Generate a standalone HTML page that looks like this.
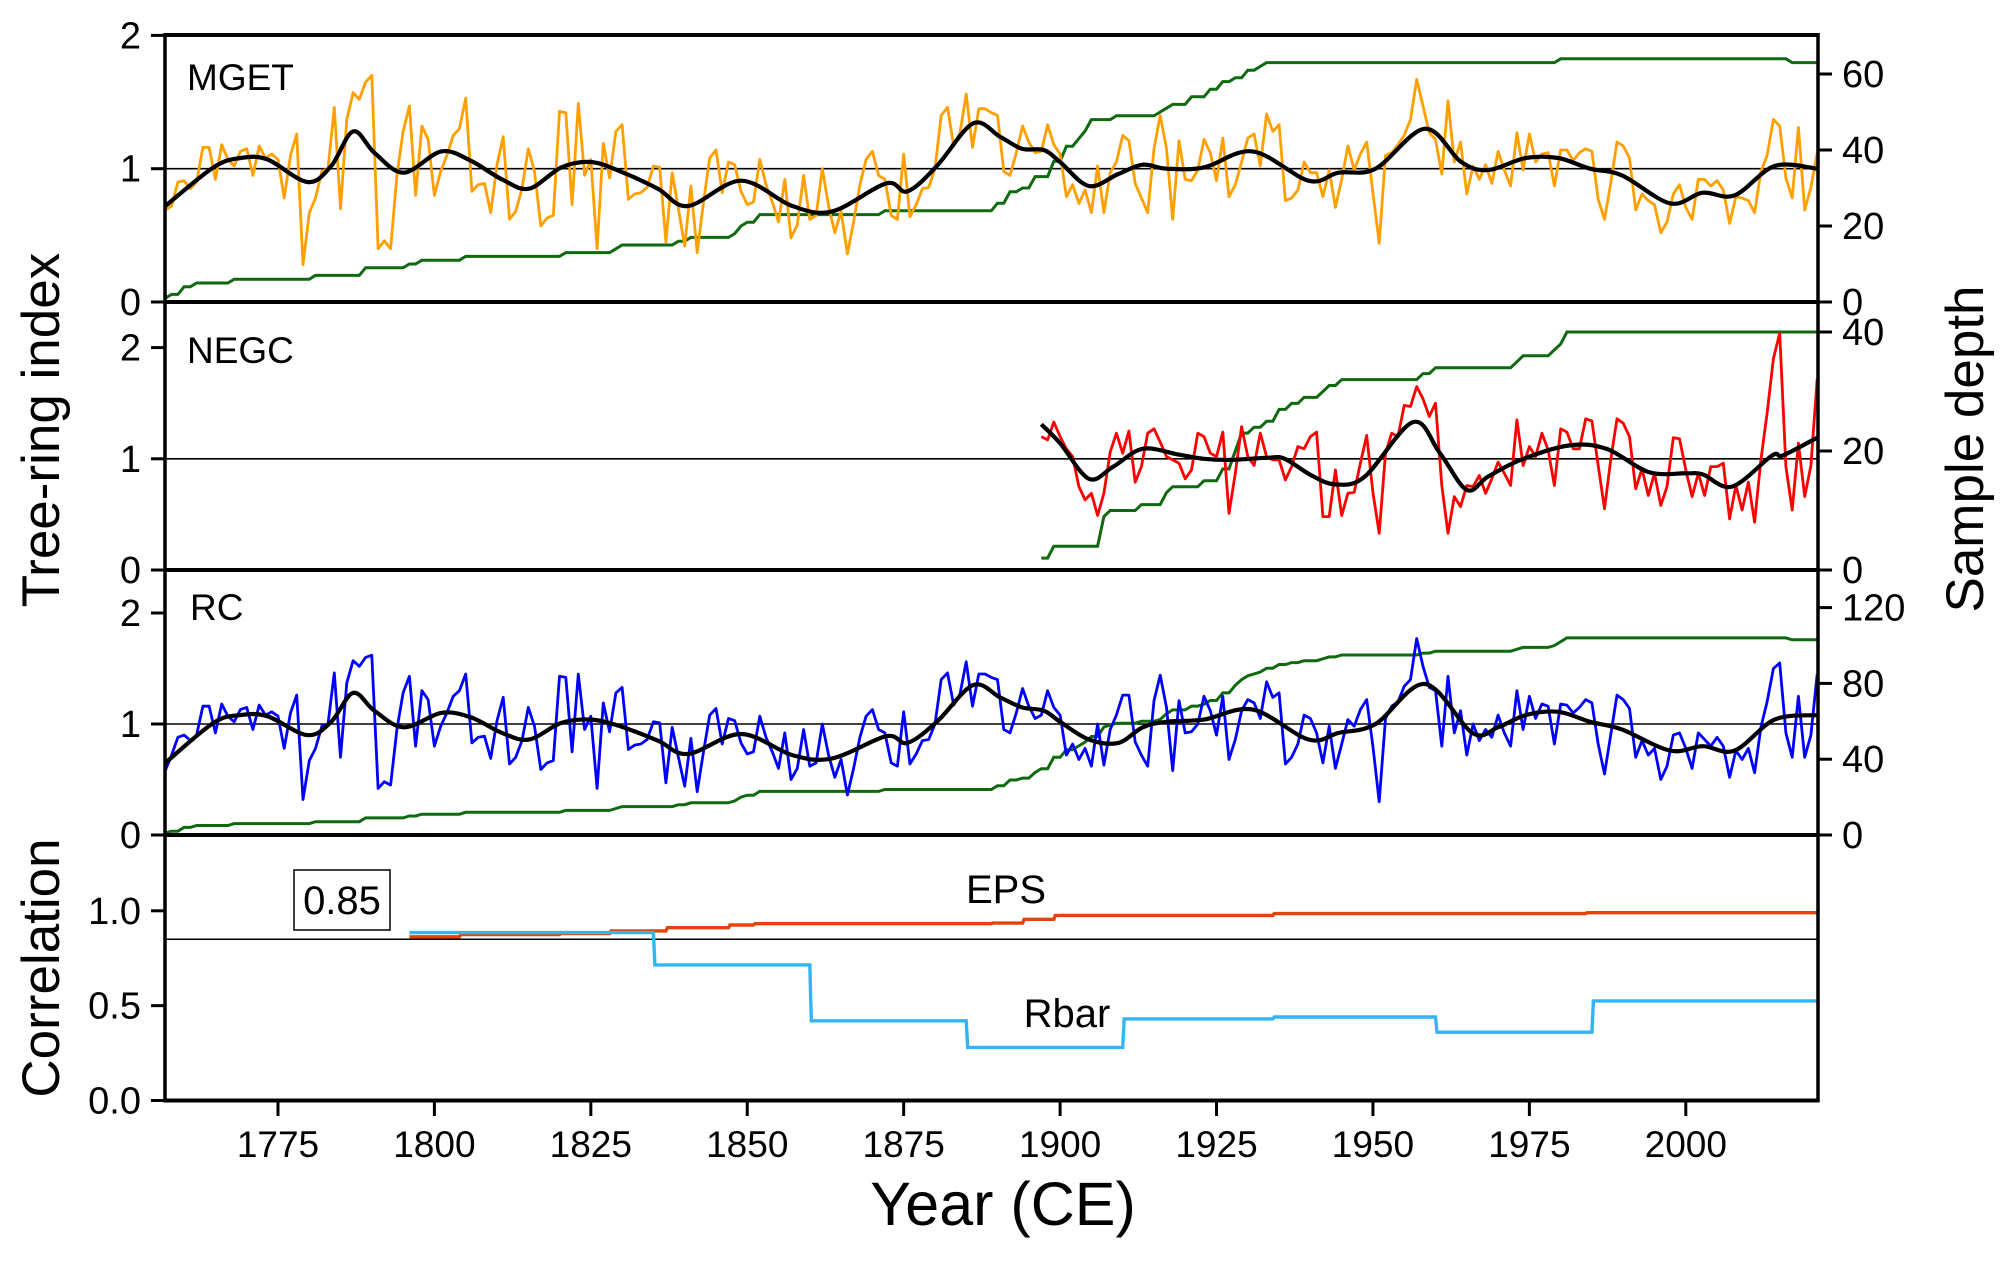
<!DOCTYPE html>
<html><head><meta charset="utf-8">
<style>
html,body{margin:0;padding:0;background:#fff;}
svg{display:block;font-family:"Liberation Sans",Arial,sans-serif;}
</style></head>
<body>
<svg id="chart" xmlns="http://www.w3.org/2000/svg" width="2003" height="1265" viewBox="0 0 2003 1265">
<g id="marks"></g>
<g id="frame"></g>
<g id="labels"></g>
</svg>
<script>
// ---------------- data ----------------
const startYear = 1757;
const mgetIndex = [
0.69,0.72,0.90,0.91,0.85,0.90,1.16,1.16,0.92,1.18,
1.07,1.02,1.13,1.15,0.95,1.17,1.08,1.11,1.07,0.78,
1.10,1.26,0.28,0.67,0.78,0.98,1.00,1.46,0.70,1.37,
1.57,1.52,1.65,1.70,0.40,0.46,0.40,0.95,1.28,1.47,
0.80,1.32,1.22,0.80,0.98,1.10,1.25,1.30,1.53,0.83,
0.88,0.89,0.67,1.03,1.24,0.62,0.68,0.85,1.15,0.98,
0.57,0.63,0.65,1.43,1.42,0.73,1.49,0.95,1.07,0.40,
1.19,0.93,1.28,1.33,0.77,0.81,0.82,0.86,1.02,1.01,
0.45,0.97,0.70,0.42,0.87,0.37,0.75,1.08,1.14,0.82,
1.05,1.03,0.83,0.73,0.75,1.07,0.88,0.75,0.60,0.92,
0.48,0.58,0.95,0.62,0.65,1.00,0.72,0.52,0.68,0.36,
0.60,0.88,1.07,1.13,0.95,0.92,0.65,0.62,1.11,0.64,
0.73,0.85,0.86,1.00,1.40,1.46,1.17,1.27,1.56,1.16,
1.45,1.45,1.42,1.40,0.98,0.95,1.12,1.32,1.20,1.12,
1.13,1.33,1.18,1.11,0.79,0.88,0.74,0.84,0.67,1.02,
0.67,0.97,1.05,1.25,1.21,0.89,0.78,0.67,1.15,1.40,
1.15,0.62,1.21,0.92,0.91,0.99,1.22,1.12,0.91,1.23,
0.79,0.88,1.05,1.23,1.26,1.02,1.41,1.28,1.33,0.76,
0.78,0.84,1.05,0.97,0.97,0.79,0.99,0.71,0.92,1.17,
0.99,1.11,1.20,0.82,0.44,1.10,1.12,1.18,1.25,1.37,
1.67,1.47,1.27,1.22,0.96,1.51,1.05,1.20,0.81,1.02,
0.92,1.03,0.89,1.13,0.99,0.87,1.27,0.99,1.26,1.05,
1.11,1.12,0.87,1.14,1.14,1.06,1.12,1.15,1.13,0.77,
0.62,0.89,1.20,1.17,1.08,0.69,0.81,0.76,0.73,0.52,
0.60,0.81,0.88,0.71,0.62,0.92,0.92,0.87,0.91,0.84,
0.59,0.79,0.78,0.76,0.67,0.98,1.10,1.37,1.32,0.93,
0.78,1.31,0.69,0.86,1.12];
const rcIndex = [
0.58,0.72,0.88,0.90,0.85,0.90,1.16,1.16,0.92,1.18,
1.07,1.02,1.13,1.15,0.95,1.17,1.08,1.11,1.07,0.78,
1.10,1.26,0.32,0.67,0.78,0.98,1.00,1.46,0.70,1.37,
1.57,1.52,1.60,1.62,0.42,0.48,0.45,0.95,1.28,1.43,
0.80,1.30,1.22,0.80,0.98,1.10,1.25,1.30,1.45,0.83,
0.88,0.89,0.69,1.03,1.24,0.64,0.70,0.85,1.15,0.98,
0.59,0.65,0.67,1.43,1.42,0.75,1.45,0.95,1.07,0.42,
1.19,0.93,1.28,1.33,0.77,0.81,0.82,0.86,1.02,1.01,
0.47,0.97,0.70,0.44,0.87,0.39,0.75,1.08,1.14,0.82,
1.05,1.03,0.83,0.73,0.75,1.07,0.88,0.75,0.60,0.92,
0.50,0.60,0.95,0.62,0.65,1.00,0.72,0.52,0.68,0.36,
0.60,0.88,1.07,1.13,0.95,0.92,0.65,0.62,1.11,0.64,
0.73,0.85,0.86,1.00,1.40,1.46,1.17,1.27,1.56,1.16,
1.45,1.45,1.42,1.40,0.95,0.92,1.10,1.32,1.16,1.05,
1.08,1.30,1.15,1.08,0.72,0.82,0.68,0.78,0.62,1.00,
0.63,0.95,1.08,1.26,1.26,0.84,0.72,0.62,1.21,1.44,
1.15,0.58,1.21,0.92,0.93,1.00,1.25,1.12,0.90,1.25,
0.68,0.86,1.12,1.22,1.19,1.05,1.38,1.24,1.28,0.64,
0.70,0.82,1.08,1.05,0.92,0.65,0.98,0.60,0.82,1.04,
0.98,1.13,1.22,0.80,0.30,1.05,1.16,1.20,1.34,1.40,
1.77,1.52,1.33,1.30,0.80,1.43,0.92,1.12,0.72,1.00,
0.85,0.95,0.88,1.08,0.92,0.80,1.30,0.95,1.25,1.05,
1.18,1.16,0.82,1.18,1.17,1.10,1.15,1.22,1.19,0.82,
0.55,0.90,1.26,1.22,1.14,0.70,0.85,0.72,0.78,0.50,
0.62,0.90,0.92,0.78,0.60,0.92,0.86,0.80,0.88,0.80,
0.52,0.76,0.68,0.78,0.56,0.97,1.20,1.50,1.55,0.92,
0.70,1.25,0.70,0.90,1.45];
const negcStart = 1897;
const negcIndex = [
1.20,1.17,1.33,1.20,1.09,1.02,0.75,0.63,0.69,0.49,
0.69,1.06,1.23,1.05,1.25,0.79,0.93,1.23,1.27,1.15,
1.02,0.99,0.96,0.82,0.90,1.23,1.20,1.05,1.02,1.24,
0.51,0.87,1.29,1.02,0.94,1.23,1.02,0.99,0.99,0.81,
0.93,1.11,1.09,1.20,1.24,0.48,0.48,0.90,0.49,0.69,
0.70,0.96,1.21,0.70,0.33,1.05,1.23,1.20,1.48,1.47,
1.65,1.54,1.38,1.50,0.76,0.33,0.66,0.57,0.76,0.75,
0.85,0.69,0.82,0.97,0.87,0.76,1.35,0.94,1.11,1.02,
1.23,1.08,0.76,1.27,1.24,1.09,1.09,1.36,1.34,0.94,
0.55,0.99,1.36,1.32,1.20,0.73,0.91,0.67,0.87,0.58,
0.75,1.19,1.18,0.90,0.66,0.87,0.67,0.93,0.93,0.96,
0.46,0.76,0.54,0.79,0.43,0.99,1.41,1.90,2.13,0.93,
0.54,1.14,0.66,0.94,1.72];
// smoothed spline curves (read at knots)
const mgetSplineYears = [1757,1764.7,1769,1773.3,1779.7,1783.5,1787,1790.4,1795.1,1801.1,1805.8,1810.8,1815.1,1820.3,1825,1829.7,1835.7,1840.5,1849,1857.2,1863.6,1872.2,1875.6,1880.3,1886.1,1890.4,1893.9,1897.4,1900,1904.6,1909.3,1913.2,1917,1923,1930.8,1939.7,1944.5,1950.4,1958.3,1964.1,1968.4,1974.4,1979.6,1984.7,1989.8,1997.5,2002.7,2007.8,2014.2,2021];
const mgetSplineVals  = [0.72,1.01,1.08,1.07,0.90,1.02,1.28,1.12,0.97,1.13,1.06,0.92,0.85,1.01,1.05,0.98,0.85,0.72,0.91,0.72,0.68,0.89,0.83,1.02,1.34,1.24,1.15,1.14,1.05,0.87,0.96,1.03,1.00,1.01,1.13,0.91,0.97,1.00,1.30,1.05,0.99,1.08,1.08,1.00,0.95,0.74,0.82,0.80,1.02,1.00];
const negcSplineYears = [1897,1900,1904.6,1908.5,1913.2,1918.8,1923,1927.3,1933.3,1935.9,1940.2,1944,1948.7,1956.4,1960.7,1965,1968.4,1973.6,1981.3,1987.3,1994.1,2000.1,2002.7,2007.4,2013.8,2015.5,2021];
const negcSplineVals  = [1.31,1.14,0.82,0.93,1.09,1.04,1.00,0.99,1.01,1.00,0.85,0.77,0.84,1.33,1.05,0.72,0.84,0.99,1.12,1.09,0.88,0.87,0.86,0.75,1.03,1.03,1.19];
const rcSplineYears = [1757,1764.7,1769,1773.3,1779.7,1783.5,1787,1790.4,1795.1,1801.1,1805.8,1810.8,1815.1,1820.3,1825,1829.7,1835.7,1840.5,1849,1857.2,1863.6,1872.2,1875.6,1880.3,1886.1,1890.4,1893.9,1897.4,1900,1904.6,1909.3,1913.2,1917,1923,1930.8,1939.7,1944.5,1950.4,1958.3,1965.9,1970,1974.4,1979.6,1984.7,1989.8,1997.5,2002.7,2007.8,2014.2,2021];
const rcSplineVals  = [0.65,1.01,1.08,1.07,0.90,1.02,1.28,1.12,0.97,1.10,1.06,0.92,0.86,1.01,1.04,0.98,0.85,0.73,0.91,0.72,0.69,0.89,0.83,1.02,1.35,1.24,1.15,1.12,1.02,0.86,0.83,0.97,1.02,1.04,1.13,0.86,0.92,1.00,1.36,0.92,0.97,1.08,1.11,1.02,0.95,0.76,0.80,0.76,1.04,1.08];
// sample depth change points
const mgetDepthYears = [1757,1758,1760,1762,1768,1781,1789,1796,1798,1805,1821,1829,1830,1839,1841,1848,1849,1850,1852,1872,1890,1892,1894,1896,1899,1901,1903,1904,1905,1909,1916,1917,1918,1921,1924,1926,1928,1930,1932,1933,1980,2017];
const mgetDepthVals  = [1,2,4,5,6,7,9,10,11,12,13,14,15,16,17,18,20,21,23,24,26,29,30,33,37,41,43,45,48,49,50,51,52,54,56,58,59,61,62,63,64,63];
const negcDepthYears = [1897,1899,1907,1908,1913,1917,1918,1923,1926,1928,1929,1931,1933,1935,1937,1939,1942,1943,1945,1958,1960,1973,1974,1979,1980,1981];
const negcDepthVals  = [2,4,9,10,11,13,14,15,17,20,23,24,25,27,28,29,30,31,32,33,34,35,36,37,38,40];
// EPS and Rbar (step changes)
const epsYears = [1796,1804,1820,1828,1837,1847,1851,1889,1894,1899,1934,1984];
const epsVals  = [0.863,0.875,0.880,0.894,0.911,0.925,0.932,0.935,0.955,0.976,0.985,0.99];
const rbarYears = [1796,1835,1860,1885,1910,1934,1960,1985];
const rbarVals  = [0.885,0.715,0.42,0.28,0.43,0.44,0.36,0.525];
const endYear = 2021;
const epsThreshold = 0.85;
const xTicks = [1775,1800,1825,1850,1875,1900,1925,1950,1975,2000];
const p1IndexTicks = [0,1,2];
const p2IndexTicks = [0,1,2];
const p3IndexTicks = [0,1,2];
const p4Ticks = [0.0,0.5,1.0];
const p1DepthTicks = [0,20,40,60];
const p2DepthTicks = [0,20,40];
const p3DepthTicks = [0,40,80,120];

// ---------------- axes ----------------
const X0 = 165, X1 = 1818;
const xScale = yr => 434.4 + (yr - 1800) * 6.257;
const y1 = v => 302 - v * 133.3;
const y1d = d => 302 - d * 3.8;
const y2 = v => 570 - v * 111.2;
const y2d = d => 570 - d * 5.95;
const y3 = v => 835 - v * 111;
const y3d = d => 835 - d * 1.895;
const y4 = v => 1100.5 - v * 189.7;

const NS = "http://www.w3.org/2000/svg";
const marks = document.getElementById('marks');
const frame = document.getElementById('frame');
const labels = document.getElementById('labels');
function mk(tag, parent, attrs){ const e=document.createElementNS(NS,tag); for(const k in attrs) e.setAttribute(k,attrs[k]); parent.appendChild(e); return e; }

function annualPath(start, vals, ys){
  return vals.map((v,i)=>(i?'L':'M')+xScale(start+i).toFixed(1)+','+ys(v).toFixed(1)).join('');
}
function stepSeries(years, vals, last){
  const out=[]; let k=0;
  for(let yr=years[0]; yr<=last; yr++){ while(k+1<years.length && years[k+1]<=yr) k++; out.push(vals[k]); }
  return out;
}
function smoothPath(xs, vs, ys){
  const P = xs.map((x,i)=>[xScale(x), ys(vs[i])]);
  let d='M'+P[0][0].toFixed(1)+','+P[0][1].toFixed(1);
  for(let i=0;i<P.length-1;i++){
    const p0=P[Math.max(0,i-1)], p1=P[i], p2=P[i+1], p3=P[Math.min(P.length-1,i+2)];
    const c1=[p1[0]+(p2[0]-p0[0])/6, p1[1]+(p2[1]-p0[1])/6];
    const c2=[p2[0]-(p3[0]-p1[0])/6, p2[1]-(p3[1]-p1[1])/6];
    d+='C'+c1[0].toFixed(1)+','+c1[1].toFixed(1)+' '+c2[0].toFixed(1)+','+c2[1].toFixed(1)+' '+p2[0].toFixed(1)+','+p2[1].toFixed(1);
  }
  return d;
}
function hardStep(years, vals, last, ys){
  let d='';
  years.forEach((yr,i)=>{
    const xa=xScale(yr), xb=xScale(i+1<years.length?years[i+1]:last);
    d+=(i?'L':'M')+(i?(xa+1.5):xa).toFixed(1)+','+ys(vals[i]).toFixed(1)+'L'+xb.toFixed(1)+','+ys(vals[i]).toFixed(1);
  });
  return d;
}

// reference lines
[[y1(1),'ref-line-mget'],[y2(1),'ref-line-negc'],[y3(1),'ref-line-rc'],[y4(epsThreshold),'eps-threshold-line']].forEach(r=>{
  const l=mk('line',marks,{x1:X0,x2:X1,y1:r[0],y2:r[0],stroke:'#000','stroke-width':1.6});
  
  
});

const mgetDepth = stepSeries(mgetDepthYears, mgetDepthVals, endYear);
const negcDepth = stepSeries(negcDepthYears, negcDepthVals, endYear);
const rcDepth = mgetDepth.map((d,i)=>{ const yr=startYear+i; return d + (yr>=negcStart ? negcDepth[yr-negcStart] : 0); });
const GREEN='#0f6a0f';

let e;
// Panel 1
e=mk('path',marks,{d:annualPath(startYear,mgetDepth,y1d),fill:'none',stroke:GREEN,'stroke-width':3});


e=mk('path',marks,{d:annualPath(startYear,mgetIndex,y1),fill:'none',stroke:'#FFA000','stroke-width':2.8,'stroke-linejoin':'round'});


e=mk('path',marks,{d:smoothPath(mgetSplineYears,mgetSplineVals,y1),fill:'none',stroke:'#000','stroke-width':4.2});


// Panel 2
e=mk('path',marks,{d:annualPath(negcStart,negcDepth.slice(0),y2d),fill:'none',stroke:GREEN,'stroke-width':3});


e=mk('path',marks,{d:annualPath(negcStart,negcIndex,y2),fill:'none',stroke:'#FF0000','stroke-width':2.8,'stroke-linejoin':'round'});


e=mk('path',marks,{d:smoothPath(negcSplineYears,negcSplineVals,y2),fill:'none',stroke:'#000','stroke-width':4.2});


// Panel 3
e=mk('path',marks,{d:annualPath(startYear,rcDepth,y3d),fill:'none',stroke:GREEN,'stroke-width':3});


e=mk('path',marks,{d:annualPath(startYear,rcIndex,y3),fill:'none',stroke:'#0000FF','stroke-width':2.8,'stroke-linejoin':'round'});


e=mk('path',marks,{d:smoothPath(rcSplineYears,rcSplineVals,y3),fill:'none',stroke:'#000','stroke-width':4.2});


// Panel 4
e=mk('path',marks,{d:hardStep(epsYears,epsVals,endYear,y4),fill:'none',stroke:'#E2440C','stroke-width':3.4});


e=mk('path',marks,{d:hardStep(rbarYears,rbarVals,endYear,y4),fill:'none',stroke:'#33B4F4','stroke-width':3.4});



// frame
[[35,'panel-top-border'],[302,'panel-divider-1'],[570,'panel-divider-2'],[835,'panel-divider-3'],[1100.5,'x-axis-line']].forEach(h=>{
  const l=mk('line',frame,{x1:X0-1.5,x2:X1+1.5,y1:h[0],y2:h[0],stroke:'#000','stroke-width':4});
  
  
});
e=mk('line',frame,{x1:X0,x2:X0,y1:33,y2:1102,stroke:'#000','stroke-width':3.5});


e=mk('line',frame,{x1:X1,x2:X1,y1:33,y2:1102,stroke:'#000','stroke-width':3.5});



function txt(parent,x,y,s,size,anchor,name,extra){
  const t=mk('text',parent,Object.assign({x:x,y:y,'font-size':size,'text-anchor':anchor,fill:'#000'},extra||{}));
  t.textContent=s;   return t;
}
function leftTicks(ticks, ys, fmt, name){
  ticks.forEach(v=>{
    const l=mk('line',frame,{x1:X0-14,x2:X0,y1:ys(v),y2:ys(v),stroke:'#000','stroke-width':3});
    
    
    txt(labels,141,ys(v)+13,fmt(v),38,'end',name+'-tick-label');
  });
}
function rightTicks(ticks, ys, name){
  ticks.forEach(v=>{
    const l=mk('line',frame,{x1:X1,x2:X1+14,y1:ys(v),y2:ys(v),stroke:'#000','stroke-width':3});
    
    
    txt(labels,1842,ys(v)+13,String(v),38,'start',name+'-tick-label');
  });
}
leftTicks(p1IndexTicks,y1,String,'mget-index');
leftTicks(p2IndexTicks,y2,String,'negc-index');
leftTicks(p3IndexTicks,y3,String,'rc-index');
leftTicks(p4Ticks,y4,v=>v.toFixed(1),'correlation');
rightTicks(p1DepthTicks,y1d,'mget-depth');
rightTicks(p2DepthTicks,y2d,'negc-depth');
rightTicks(p3DepthTicks,y3d,'rc-depth');
xTicks.forEach(yr=>{
  const x=xScale(yr);
  const l=mk('line',frame,{x1:x,x2:x,y1:1100,y2:1116,stroke:'#000','stroke-width':3});
  
  
  txt(labels,x,1157,String(yr),37,'middle','x-tick-label');
});

txt(labels,187,90,'MGET',37,'start','panel-label-mget');
txt(labels,187,363,'NEGC',37,'start','panel-label-negc');
txt(labels,190,620,'RC',37,'start','panel-label-rc');
txt(labels,1006,903,'EPS',40,'middle','eps-label');
txt(labels,1067,1027,'Rbar',40,'middle','rbar-label');
e=mk('rect',labels,{x:294,y:870,width:96,height:60,fill:'#fff',stroke:'#000','stroke-width':1.5});


txt(labels,342,914,'0.85',40,'middle','threshold-value');
txt(labels,1003,1225,'Year (CE)',61,'middle','x-axis-title');
txt(labels,0,0,'Tree-ring index',53,'middle','y-axis-title-index',{transform:'translate(59,430) rotate(-90)'});
txt(labels,0,0,'Correlation',53,'middle','y-axis-title-correlation',{transform:'translate(59,968) rotate(-90)'});
txt(labels,0,0,'Sample depth',53,'middle','y-axis-title-depth',{transform:'translate(1983,449) rotate(-90)'});
</script>
</body></html>
